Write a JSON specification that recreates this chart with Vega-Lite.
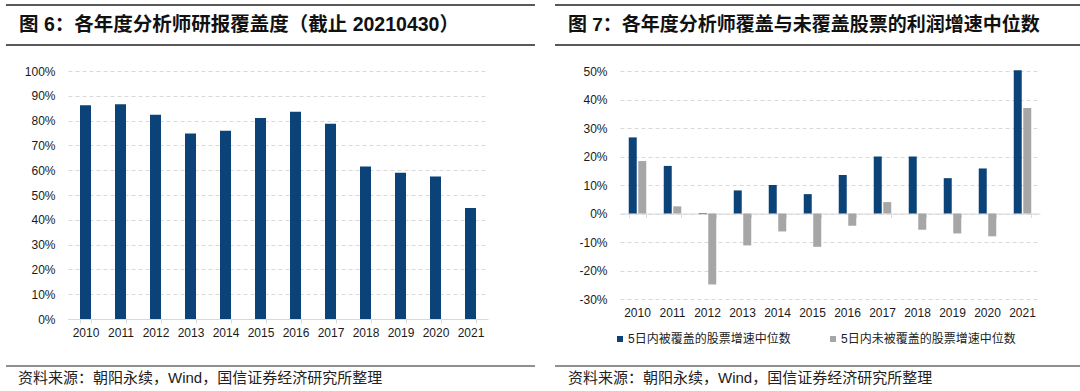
{
  "$schema": "https://vega.github.io/schema/vega-lite/v6.json",
  "background": "white",
  "padding": {"left": 5, "top": 4, "right": 0, "bottom": 0},
  "config": {
    "view": {"stroke": null},
    "axis": {"labelFont": "Liberation Sans", "labelFontSize": 12, "labelColor": "#1a1a1a", "title": null}
  },
  "datasets": {
    "coverage": [
      {"year": "2010", "coverage": 0.862},
      {"year": "2011", "coverage": 0.866},
      {"year": "2012", "coverage": 0.824},
      {"year": "2013", "coverage": 0.748},
      {"year": "2014", "coverage": 0.759},
      {"year": "2015", "coverage": 0.810},
      {"year": "2016", "coverage": 0.836},
      {"year": "2017", "coverage": 0.787},
      {"year": "2018", "coverage": 0.615},
      {"year": "2019", "coverage": 0.590},
      {"year": "2020", "coverage": 0.575},
      {"year": "2021", "coverage": 0.448}
    ],
    "growth": [
      {"year": "2010", "series": "5日内被覆盖的股票增速中位数", "growth": 0.267},
      {"year": "2011", "series": "5日内被覆盖的股票增速中位数", "growth": 0.167},
      {"year": "2012", "series": "5日内被覆盖的股票增速中位数", "growth": -0.002},
      {"year": "2013", "series": "5日内被覆盖的股票增速中位数", "growth": 0.081},
      {"year": "2014", "series": "5日内被覆盖的股票增速中位数", "growth": 0.100},
      {"year": "2015", "series": "5日内被覆盖的股票增速中位数", "growth": 0.068},
      {"year": "2016", "series": "5日内被覆盖的股票增速中位数", "growth": 0.135},
      {"year": "2017", "series": "5日内被覆盖的股票增速中位数", "growth": 0.200},
      {"year": "2018", "series": "5日内被覆盖的股票增速中位数", "growth": 0.200},
      {"year": "2019", "series": "5日内被覆盖的股票增速中位数", "growth": 0.124},
      {"year": "2020", "series": "5日内被覆盖的股票增速中位数", "growth": 0.158},
      {"year": "2021", "series": "5日内被覆盖的股票增速中位数", "growth": 0.503},
      {"year": "2010", "series": "5日内未被覆盖的股票增速中位数", "growth": 0.184},
      {"year": "2011", "series": "5日内未被覆盖的股票增速中位数", "growth": 0.025},
      {"year": "2012", "series": "5日内未被覆盖的股票增速中位数", "growth": -0.249},
      {"year": "2013", "series": "5日内未被覆盖的股票增速中位数", "growth": -0.112},
      {"year": "2014", "series": "5日内未被覆盖的股票增速中位数", "growth": -0.063},
      {"year": "2015", "series": "5日内未被覆盖的股票增速中位数", "growth": -0.117},
      {"year": "2016", "series": "5日内未被覆盖的股票增速中位数", "growth": -0.043},
      {"year": "2017", "series": "5日内未被覆盖的股票增速中位数", "growth": 0.040},
      {"year": "2018", "series": "5日内未被覆盖的股票增速中位数", "growth": -0.057},
      {"year": "2019", "series": "5日内未被覆盖的股票增速中位数", "growth": -0.070},
      {"year": "2020", "series": "5日内未被覆盖的股票增速中位数", "growth": -0.080},
      {"year": "2021", "series": "5日内未被覆盖的股票增速中位数", "growth": 0.370}
    ]
  },
  "resolve": {"scale": {"color": "independent"}, "legend": {"color": "independent"}},
  "spacing": 18,
  "hconcat": [
    {
      "columns": 1, "align": "none", "spacing": 19,
      "concat": [
        {
          "width": 529, "height": 40,
          "data": {"values": [{"label": "图 6：各年度分析师研报覆盖度（截止 20210430）"}]},
          "layer": [
            {"mark": {"type": "rule", "color": "#222", "strokeWidth": 1.5},
             "encoding": {"y": {"datum": 0, "type": "quantitative", "scale": {"domain": [0, 1]}, "axis": null}}},
            {"mark": {"type": "rule", "color": "#222", "strokeWidth": 1.5},
             "encoding": {"y": {"datum": 1, "type": "quantitative", "scale": {"domain": [0, 1]}, "axis": null}}},
            {"mark": {"type": "text", "align": "left", "baseline": "middle", "dx": 13, "font": "Liberation Sans, Noto Sans CJK SC", "fontSize": 19.5, "fontWeight": "bold", "color": "#111"},
             "encoding": {
               "x": {"datum": 0, "type": "quantitative", "scale": {"domain": [0, 1]}, "axis": null},
               "y": {"datum": 0.5, "type": "quantitative", "scale": {"domain": [0, 1]}, "axis": null},
               "text": {"field": "label"}
             }}
          ]
        },
        {
          "columns": 1, "align": "none", "spacing": 27,
          "concat": [
            {
              "width": 482, "height": 248,
              "data": {"name": "coverage"},
              "mark": {"type": "bar", "color": "#0B4379"},
              "encoding": {
                "x": {"field": "year", "type": "ordinal", "scale": {"range": [62, 482], "paddingInner": 0.686, "paddingOuter": 0.343},
                      "axis": {"labelAngle": 0, "domainColor": "#D9D9D9", "tickColor": "#D9D9D9", "tickSize": 4, "tickBand": "extent", "labelPadding": 4, "grid": false}},
                "y": {"field": "coverage", "type": "quantitative", "scale": {"domain": [0, 1], "nice": false},
                      "axis": {"values": [0, 0.1, 0.2, 0.3, 0.4, 0.5, 0.6, 0.7, 0.8, 0.9, 1], "format": ".0%", "offset": -62, "minExtent": 0, "domain": false, "ticks": false, "labelPadding": 13, "grid": true, "gridColor": "#D9D9D9", "gridDash": [4, 3]}}
              }
            },
            {
              "width": 529, "height": 24,
              "data": {"values": [{"label": "资料来源：朝阳永续，Wind，国信证券经济研究所整理"}]},
              "layer": [
                {"mark": {"type": "rule", "color": "#222", "strokeWidth": 1.2},
                 "encoding": {"y": {"datum": 1, "type": "quantitative", "scale": {"domain": [0, 1]}, "axis": null}}},
                {"mark": {"type": "text", "align": "left", "baseline": "middle", "dx": 12, "font": "Liberation Sans, Noto Sans CJK SC", "fontSize": 15, "color": "#222"},
                 "encoding": {
                   "x": {"datum": 0, "type": "quantitative", "scale": {"domain": [0, 1]}, "axis": null},
                   "y": {"datum": 0.5, "type": "quantitative", "scale": {"domain": [0, 1]}, "axis": null},
                   "text": {"field": "label"}
                 }}
              ]
            }
          ]
        }
      ]
    },
    {
      "columns": 1, "align": "none", "spacing": 19,
      "resolve": {"scale": {"color": "independent"}, "legend": {"color": "independent"}},
      "concat": [
        {
          "width": 525, "height": 40,
          "data": {"values": [{"label": "图 7：各年度分析师覆盖与未覆盖股票的利润增速中位数"}]},
          "layer": [
            {"mark": {"type": "rule", "color": "#222", "strokeWidth": 1.5},
             "encoding": {"y": {"datum": 0, "type": "quantitative", "scale": {"domain": [0, 1]}, "axis": null}}},
            {"mark": {"type": "rule", "color": "#222", "strokeWidth": 1.5},
             "encoding": {"y": {"datum": 1, "type": "quantitative", "scale": {"domain": [0, 1]}, "axis": null}}},
            {"mark": {"type": "text", "align": "left", "baseline": "middle", "dx": 13, "font": "Liberation Sans, Noto Sans CJK SC", "fontSize": 19, "fontWeight": "bold", "color": "#111"},
             "encoding": {
               "x": {"datum": 0, "type": "quantitative", "scale": {"domain": [0, 1]}, "axis": null},
               "y": {"datum": 0.5, "type": "quantitative", "scale": {"domain": [0, 1]}, "axis": null},
               "text": {"field": "label"}
             }}
          ]
        },
        {
          "columns": 1, "align": "none", "spacing": 20,
          "resolve": {"scale": {"color": "independent"}, "legend": {"color": "independent"}},
          "concat": [
            {
              "width": 485, "height": 228,
              "data": {"name": "growth"},
              "resolve": {"axis": {"x": "independent"}},
              "layer": [
                {
                  "transform": [{"filter": "datum.series === '5日内被覆盖的股票增速中位数'"}],
                  "mark": {"type": "bar"},
                  "encoding": {
                    "x": {"field": "year", "type": "ordinal", "scale": {"range": [65, 485], "paddingInner": 0.5, "paddingOuter": 0.25},
                          "axis": {"orient": "bottom", "labelAngle": 0, "domain": false, "ticks": false, "labelPadding": 8, "grid": false}},
                    "xOffset": {"field": "series", "type": "nominal", "scale": {"domain": ["5日内被覆盖的股票增速中位数", "5日内未被覆盖的股票增速中位数"], "paddingInner": 0.16}},
                    "y": {"field": "growth", "type": "quantitative", "scale": {"domain": [-0.3, 0.5], "nice": false},
                          "axis": {"values": [-0.3, -0.2, -0.1, 0, 0.1, 0.2, 0.3, 0.4, 0.5], "format": ".0%", "labelExpr": "replace(datum.label, '−', '-')", "offset": -65, "minExtent": 0, "domain": false, "ticks": false, "labelPadding": 13, "grid": true, "gridColor": "#D9D9D9", "gridDash": [4, 3]}},
                    "color": {"field": "series", "type": "nominal",
                              "scale": {"domain": ["5日内被覆盖的股票增速中位数", "5日内未被覆盖的股票增速中位数"], "range": ["#0B4379", "#A6A6A6"]},
                              "legend": {"orient": "none", "legendX": 59, "legendY": 262, "direction": "horizontal", "title": null, "symbolType": "square", "symbolSize": 36, "symbolStrokeWidth": 0, "labelFont": "Liberation Sans, Noto Sans CJK SC", "labelFontSize": 12, "labelColor": "#222", "labelLimit": 300, "labelOffset": 2, "columnPadding": 36, "padding": 0}}
                  }
                },
                {
                  "transform": [{"filter": "datum.series === '5日内未被覆盖的股票增速中位数'"}],
                  "mark": {"type": "bar"},
                  "encoding": {
                    "x": {"field": "year", "type": "ordinal", "scale": {"range": [65, 485], "paddingInner": 0.5, "paddingOuter": 0.25},
                          "axis": {"orient": "bottom", "offset": -85.5, "labels": false, "domain": true, "domainColor": "#D9D9D9", "ticks": true, "tickColor": "#D9D9D9", "tickSize": 4, "tickBand": "extent", "grid": false}},
                    "xOffset": {"field": "series", "type": "nominal", "scale": {"domain": ["5日内被覆盖的股票增速中位数", "5日内未被覆盖的股票增速中位数"], "paddingInner": 0.16}},
                    "y": {"field": "growth", "type": "quantitative", "scale": {"domain": [-0.3, 0.5], "nice": false},
                          "axis": {"values": [-0.3, -0.2, -0.1, 0, 0.1, 0.2, 0.3, 0.4, 0.5], "format": ".0%", "labelExpr": "replace(datum.label, '−', '-')", "offset": -65, "minExtent": 0, "domain": false, "ticks": false, "labelPadding": 13, "grid": true, "gridColor": "#D9D9D9", "gridDash": [4, 3]}},
                    "color": {"field": "series", "type": "nominal",
                              "scale": {"domain": ["5日内被覆盖的股票增速中位数", "5日内未被覆盖的股票增速中位数"], "range": ["#0B4379", "#A6A6A6"]}}
                  }
                }
              ]
            },
            {
              "width": 525, "height": 24,
              "data": {"values": [{"label": "资料来源：朝阳永续，Wind，国信证券经济研究所整理"}]},
              "layer": [
                {"mark": {"type": "rule", "color": "#222", "strokeWidth": 1.2},
                 "encoding": {"y": {"datum": 1, "type": "quantitative", "scale": {"domain": [0, 1]}, "axis": null}}},
                {"mark": {"type": "text", "align": "left", "baseline": "middle", "dx": 13, "font": "Liberation Sans, Noto Sans CJK SC", "fontSize": 15, "color": "#222"},
                 "encoding": {
                   "x": {"datum": 0, "type": "quantitative", "scale": {"domain": [0, 1]}, "axis": null},
                   "y": {"datum": 0.5, "type": "quantitative", "scale": {"domain": [0, 1]}, "axis": null},
                   "text": {"field": "label"}
                 }}
              ]
            }
          ]
        }
      ]
    }
  ]
}
